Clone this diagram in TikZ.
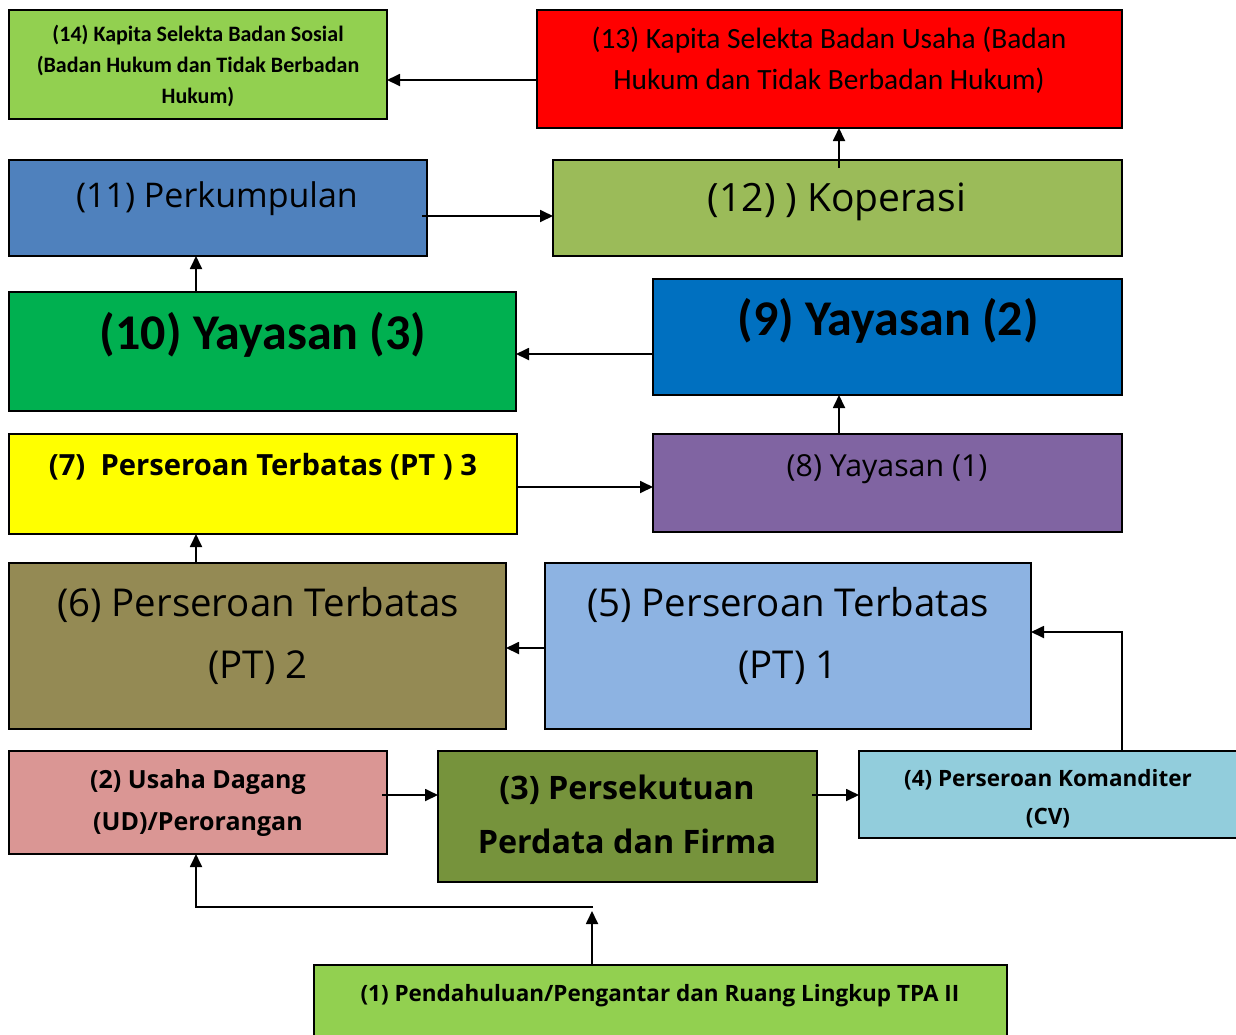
\documentclass[tikz,border=0pt]{standalone}
\usepackage{fontspec}
\setmainfont{Carlito}
\newfontfamily\osf{Open Sans}
\newfontfamily\clf{Carlito}
\usetikzlibrary{arrows.meta}
\definecolor{cgreenA}{HTML}{92D050}
\definecolor{cred}{HTML}{FF0000}
\definecolor{cblueA}{HTML}{4F81BD}
\definecolor{colive}{HTML}{9BBB59}
\definecolor{cgreenB}{HTML}{00B050}
\definecolor{cblueB}{HTML}{0070C0}
\definecolor{cyel}{HTML}{FFFF00}
\definecolor{cpurp}{HTML}{8064A2}
\definecolor{ckhaki}{HTML}{948A54}
\definecolor{clblue}{HTML}{8DB3E2}
\definecolor{cpink}{HTML}{DA9694}
\definecolor{cdolive}{HTML}{76933C}
\definecolor{ccyan}{HTML}{92CDDC}
\newcommand{\mybox}[6]{%
  \node[boxst, fill=#6, minimum width={#4-#2}, minimum height={#5-#3}] (#1) at ({(#2+#4)/2},{(#3+#5)/2}) {};}
\tikzset{
  boxst/.style={draw=black, line width=1.8pt, rectangle, inner sep=0pt, outer sep=0pt},
  txt/.style={align=center, inner sep=0pt, text=black},
  conn/.style={line width=1.8pt, draw=black, -{Triangle[length=13pt,width=12pt]}},
  plain/.style={line width=1.8pt, draw=black},
}
\begin{document}
\begin{tikzpicture}[x=1pt,y=-1pt]
\useasboundingbox (0,0) rectangle (1236,1034);
\clip (0,0) rectangle (1236,1034);
% boxes
\mybox{b14}{9}{10}{387}{119}{cgreenA}
\mybox{b13}{537}{10}{1122}{128}{cred}
\mybox{b11}{9}{160}{427}{256}{cblueA}
\mybox{b12}{553}{160}{1122}{256}{colive}
\mybox{b10}{9}{292}{516}{411}{cgreenB}
\mybox{b9}{653}{279}{1122}{395}{cblueB}
\mybox{b7}{9}{434}{517}{534}{cyel}
\mybox{b8}{653}{434}{1122}{532}{cpurp}
\mybox{b6}{9}{563}{506}{729}{ckhaki}
\mybox{b5}{545}{563}{1031}{729}{clblue}
\mybox{b2}{9}{751}{387}{854}{cpink}
\mybox{b3}{438}{751}{817}{882}{cdolive}
\mybox{b4}{859}{751}{1250}{838}{ccyan}
\mybox{b1}{314}{965}{1007}{1050}{cgreenA}
% texts
\node[txt, font=\clf\bfseries\fontsize{22}{31}\selectfont] (t14) at (198,66) {(14) Kapita Selekta Badan Sosial\\(Badan Hukum dan Tidak Berbadan\\Hukum)};
\node[txt, font=\clf\fontsize{29.4}{41}\selectfont] (t13) at (829,60.5) {(13) Kapita Selekta Badan Usaha (Badan\\Hukum dan Tidak Berbadan Hukum)};
\node[txt, font=\osf\fontsize{34}{40}\selectfont] (t11) at (217,199) {(11) Perkumpulan};
\node[txt, font=\osf\fontsize{39}{46}\selectfont] (t12) at (837,202) {(12) ) Koperasi};
\node[txt, font=\clf\bfseries\fontsize{50}{58}\selectfont] (t10) at (263,335) {(10) Yayasan (3)};
\node[txt, font=\clf\bfseries\fontsize{50}{58}\selectfont] (t9) at (888,321) {(9) Yayasan (2)};
\node[txt, font=\osf\bfseries\fontsize{29.2}{34}\selectfont] (t7) at (263,467) {(7)\ \ Perseroan Terbatas (PT ) 3};
\node[txt, font=\osf\fontsize{30.3}{34}\selectfont] (t8) at (887,469) {(8) Yayasan (1)};
\node[txt, font=\osf\fontsize{38.4}{61.5}\selectfont] (t6) at (258,636) {(6) Perseroan Terbatas\\(PT) 2};
\node[txt, font=\osf\fontsize{38.4}{61.5}\selectfont] (t5) at (788,636) {(5) Perseroan Terbatas\\(PT) 1};
\node[txt, font=\osf\bfseries\fontsize{25}{42}\selectfont] (t2) at (198,803) {(2) Usaha Dagang\\(UD)/Perorangan};
\node[txt, font=\osf\bfseries\fontsize{32.3}{54}\selectfont] (t3) at (627,814) {(3) Persekutuan\\Perdata dan Firma};
\node[txt, font=\osf\bfseries\fontsize{22.5}{38}\selectfont] (t4) at (1048,799) {(4) Perseroan Komanditer\\(CV)};
\node[txt, font=\osf\bfseries\fontsize{22.5}{26}\selectfont] (t1) at (660,996) {(1) Pendahuluan/Pengantar dan Ruang Lingkup TPA II};
% connectors
\draw[conn] (b13.west |- 0,80) -- (b14.east |- 0,80);
\draw[conn] ([xshift=-5pt]b11.east |- 0,216) -- (b12.west |- 0,216);
\draw[conn] (839,168) -- (b13.south -| 839,0);
\draw[conn] (b9.west |- 0,354) -- (b10.east |- 0,354);
\draw[conn] (196,292) -- (b11.south -| 196,0);
\draw[conn] (b8.north -| 839,0) -- (b9.south -| 839,0);
\draw[conn] (b7.east |- 0,487) -- (b8.west |- 0,487);
\draw[conn] (b6.north -| 196,0) -- (b7.south -| 196,0);
\draw[conn] (b5.west |- 0,648) -- (b6.east |- 0,648);
\draw[conn] (b4.north -| 1122,0) -- (1122,632) -- (b5.east |- 0,632);
\draw[conn] ([xshift=-5pt]b2.east |- 0,795) -- (b3.west |- 0,795);
\draw[conn] ([xshift=-5pt]b3.east |- 0,795) -- (b4.west |- 0,795);
\coordinate (j1) at (593,907);
\draw[conn] (b1.north -| 592,0) -- (592,911);
\draw[conn] (j1) -- (196,907) -- (b2.south -| 196,0);
\end{tikzpicture}
\end{document}
